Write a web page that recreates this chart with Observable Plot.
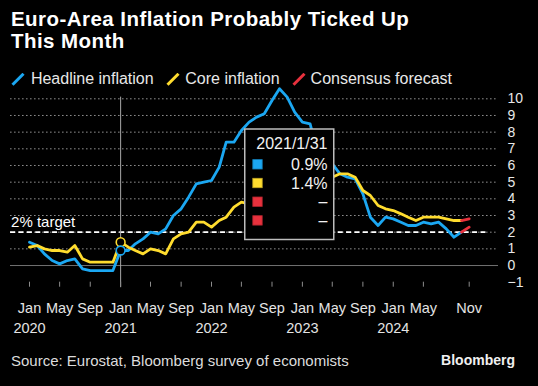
<!DOCTYPE html>
<html>
<head>
<meta charset="utf-8">
<script src="https://cdn.jsdelivr.net/npm/d3@7"></script>
<script src="https://cdn.jsdelivr.net/npm/@observablehq/plot@0.6"></script>
<style>
html, body { margin: 0; padding: 0; background: #000; }
#root { position: relative; width: 538px; height: 386px; overflow: hidden; background: #000;
  font-family: "Liberation Sans", Arial, sans-serif; color: #e4e4e4; }
#title { position: absolute; left: 11px; top: 7.6px; font-size: 20.5px; line-height: 22.5px;
  font-weight: bold; color: #fff; white-space: nowrap; letter-spacing: 0.45px; }
.lg { position: absolute; top: 69.3px; font-size: 16px; line-height: 20px; white-space: nowrap; color: #e8e8e8; }
.sl { position: absolute; top: 72.5px; }
#chart { position: absolute; left: 0; top: 85px; }
#source { position: absolute; left: 11px; top: 351.5px; font-size: 15px; line-height: 18px; color: #dcdcdc; white-space: nowrap; }
#brand { position: absolute; right: 23px; top: 352px; font-size: 14px; line-height: 16px; font-weight: bold; color: #f0f0f0; }
#tip { position: absolute; left: 0; top: 0; pointer-events: none; }
</style>
</head>
<body>
<div id="root">
  <div id="title">Euro-Area Inflation Probably Ticked Up<br>This Month</div>
  <div id="legend"></div>
  <div id="chart"></div>
  <div id="source">Source: Eurostat, Bloomberg survey of economists</div>
  <div id="brand">Bloomberg</div>
</div>
<script>
// ---------- data ----------
const startMonth = "2020-01";
const headline = [
  1.4, 1.2, 0.7, 0.3, 0.1, 0.3, 0.4, -0.2, -0.3, -0.3, -0.3, -0.3,
  0.9, 0.9, 1.3, 1.6, 2.0, 1.9, 2.2, 3.0, 3.4, 4.1, 4.9, 5.0,
  5.1, 5.9, 7.4, 7.4, 8.1, 8.6, 8.9, 9.1, 9.9, 10.6, 10.1, 9.2,
  8.6, 8.5, 6.9, 7.0, 6.1, 5.5, 5.3, 5.2, 4.3, 2.9, 2.4, 2.9,
  2.8, 2.6, 2.4, 2.4, 2.6, 2.5, 2.6, 2.2, 1.7, 2.0
];
const core = [
  1.1, 1.2, 1.0, 0.9, 0.9, 0.8, 1.2, 0.4, 0.2, 0.2, 0.2, 0.2,
  1.4, 1.1, 0.9, 0.7, 1.0, 0.9, 0.7, 1.6, 1.9, 2.0, 2.6, 2.6,
  2.3, 2.7, 2.9, 3.5, 3.8, 3.7, 4.0, 4.3, 4.8, 5.0, 5.0, 5.2,
  5.3, 5.6, 5.7, 5.6, 5.3, 5.5, 5.5, 5.3, 4.5, 4.2, 3.6, 3.4,
  3.3, 3.1, 2.9, 2.7, 2.9, 2.9, 2.9, 2.8, 2.7, 2.7
];
const forecastMonth = "2024-11";
const headlineForecast = 2.3;
const coreForecast = 2.8;
const target = 2;
const hoverMonth = "2021-01";
const hoverLabel = "2021/1/31";
const xTicks = ["2020-01","2020-05","2020-09","2021-01","2021-05","2021-09","2022-01","2022-05","2022-09",
                "2023-01","2023-05","2023-09","2024-01","2024-05","2024-11"];
const xTickLabels = ["Jan\n2020","May","Sep","Jan\n2021","May","Sep","Jan\n2022","May","Sep",
                     "Jan\n2023","May","Sep","Jan\n2024","May","Nov"];
const yTicks = [-1, 0, 1, 2, 3, 4, 5, 6, 7, 8, 9, 10];
const gridLevels = [1, 2, 3, 4, 5, 6, 7, 8, 9, 10];
const seriesNames = ["Headline inflation", "Core inflation", "Consensus forecast"];
const colors = ["#1ba7f2", "#ffdc2e", "#e8313d"];

// ---------- build ----------
const parseM = d3.utcParse("%Y-%m");
const start = parseM(startMonth);
const months = d3.utcMonth.range(start, d3.utcMonth.offset(start, headline.length));
const headData = headline.map((v, i) => ({date: months[i], value: v}));
const coreData = core.map((v, i) => ({date: months[i], value: v}));
const last = months.length - 1;
const fDate = parseM(forecastMonth);
const headFc = [{date: months[last], value: headline[last]}, {date: fDate, value: headlineForecast}];
const coreFc = [{date: months[last], value: core[last]}, {date: fDate, value: coreForecast}];
const hDate = parseM(hoverMonth);
const hIdx = months.findIndex(m => +m === +hDate);
const tickDates = xTicks.map(parseM);
const labelMap = new Map(tickDates.map((d, i) => [+d, xTickLabels[i]]));

const leftEdge = parseM("2019-10");
leftEdge.setUTCDate(17);
const targetEnd = new Date(Date.UTC(2025, 0, 17));

const chart = Plot.plot({
  width: 538,
  height: 250,
  marginLeft: 10,
  marginRight: 40,
  marginTop: 3.3,
  marginBottom: 53.3,
  style: {background: "transparent", color: "#e4e4e4", fontFamily: "Liberation Sans, Arial, sans-serif", fontSize: "14px", overflow: "visible"},
  x: {type: "utc", domain: [start, fDate], range: [29, 468.7]},
  y: {domain: [-1, 10.6], range: [196.7, 3.3]},
  marks: [
    Plot.ruleY(gridLevels, {stroke: "#8c8c8c", strokeWidth: 1, strokeDasharray: "1.6,2.4"}),
    Plot.ruleY([0], {stroke: "#707070", strokeWidth: 1}),
    Plot.ruleY([{y: target, x1: leftEdge, x2: targetEnd}], {y: "y", x1: "x1", x2: "x2", stroke: "#ffffff", strokeWidth: 1.7, strokeDasharray: "5,3.4"}),
    Plot.text([{x: leftEdge, y: target}], {x: "x", y: "y", text: () => target + "% target", textAnchor: "start", dx: 0.5, dy: -10.2, fill: "#ffffff", fontSize: 15}),
    Plot.ruleX([{x: hDate, y1: -1.33, y2: 10.1}], {x: "x", y1: "y1", y2: "y2", stroke: "#a8a8a8", strokeWidth: 1}),
    Plot.line(headData, {x: "date", y: "value", stroke: colors[0], strokeWidth: 2.8}),
    Plot.line(coreData, {x: "date", y: "value", stroke: colors[1], strokeWidth: 2.8}),
    Plot.line(headFc, {x: "date", y: "value", stroke: colors[2], strokeWidth: 2.8}),
    Plot.line(coreFc, {x: "date", y: "value", stroke: colors[2], strokeWidth: 2.8}),
    Plot.dot([{date: hDate, value: core[hIdx], c: colors[1]}, {date: hDate, value: headline[hIdx], c: colors[0]}],
      {x: "date", y: "value", r: 4.4, fill: "#000", stroke: d => d.c, strokeWidth: 1.6}),
    Plot.axisY({anchor: "right", ticks: yTicks, tickSize: 0, tickPadding: 9, fontSize: 14, fill: "#e8e8e8", label: null}),
    Plot.axisX({ticks: tickDates, tickFormat: d => labelMap.get(+d), tickSize: 5, tickPadding: 11.7,
      fontSize: 14.5, lineHeight: 1.37, stroke: "#8c8c8c", fill: "#e4e4e4", label: null})
  ]
});
document.getElementById("chart").appendChild(chart);

// legend
const legend = document.getElementById("legend");
const slashX = [11.3, 165.7, 291.7];
const textX = [30.9, 185.3, 310.6];
seriesNames.forEach((name, i) => {
  const s = document.createElementNS("http://www.w3.org/2000/svg", "svg");
  s.setAttribute("width", 14); s.setAttribute("height", 13);
  s.setAttribute("class", "sl");
  s.style.left = slashX[i] + "px";
  s.innerHTML = `<line x1="1.5" y1="11.8" x2="12.5" y2="0.8" stroke="${colors[i]}" stroke-width="3"/>`;
  legend.appendChild(s);
  const t = document.createElement("div");
  t.className = "lg";
  t.style.left = textX[i] + "px";
  t.textContent = name;
  legend.appendChild(t);
});

// hover tooltip (snapshot of the reference's hover state)
const fmt = v => (v == null ? "\u2013" : v.toFixed(1) + "%");
const rows = [
  {c: colors[0], v: fmt(headline[hIdx])},
  {c: colors[1], v: fmt(core[hIdx])},
  {c: colors[2], v: fmt(null)},
  {c: colors[2], v: fmt(null)}
];
const tip = d3.select("#root").append("svg").attr("id", "tip").attr("width", 538).attr("height", 386)
  .style("font-family", "Liberation Sans, Arial, sans-serif");
tip.append("rect").attr("x", 244.75).attr("y", 129).attr("width", 89).attr("height", 110.5)
  .attr("fill", "#000").attr("stroke", "#bdbdbd").attr("stroke-width", 1.5);
tip.append("text").attr("x", 327.5).attr("y", 149.3).attr("text-anchor", "end")
  .attr("font-size", 16).attr("fill", "#f2f2f2").text(hoverLabel);
rows.forEach((r, i) => {
  const base = 170 + i * 18.7;
  tip.append("rect").attr("x", 252.8).attr("y", base - 10.4).attr("width", 9.4).attr("height", 9.4)
    .attr("fill", r.c).attr("stroke", d3.color(r.c).darker(0.8)).attr("stroke-width", 0.8);
  tip.append("text").attr("x", 327.5).attr("y", base).attr("text-anchor", "end")
    .attr("font-size", 16).attr("fill", "#f2f2f2").text(r.v);
});
</script>
</body>
</html>
